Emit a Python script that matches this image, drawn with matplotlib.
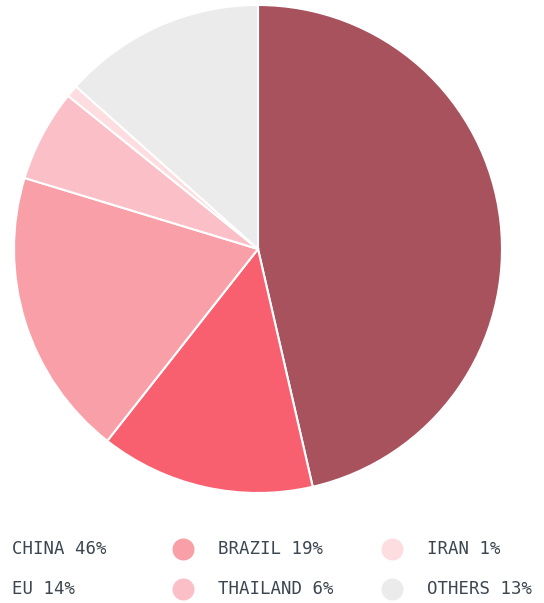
import matplotlib
matplotlib.use("Agg")
import matplotlib.pyplot as plt

labels = ["CHINA", "EU", "BRAZIL", "THAILAND", "IRAN", "OTHERS"]
values = [46.4, 14.2, 19.1, 6.1, 0.8, 13.4]
pct_labels = ["46%", "14%", "19%", "6%", "1%", "13%"]
colors = ["#A8525E", "#F9606F", "#F99FA8", "#FBC0C7", "#FDDDE0", "#EBEBEB"]

W, H = 544, 603
fig = plt.figure(figsize=(W / 100, H / 100), dpi=100)
cx, cy, r = 258, 249, 244
ax = fig.add_axes([(cx - r) / W, (H - cy - r) / H, 2 * r / W, 2 * r / H])
ax.pie(values, colors=colors, startangle=90, counterclock=False,
       wedgeprops=dict(edgecolor="white", linewidth=1.5), radius=1)
ax.set_xlim(-1, 1)
ax.set_ylim(-1, 1)
ax.set_aspect("equal")
ax.axis("off")

# legend: column-major, 3 columns, 2 rows
text_x = [12, 218, 427]
marker_dx = -35
row_y = [549, 589]
lax = fig.add_axes([0, 0, 1, 1], facecolor="none")
lax.set_xlim(0, W)
lax.set_ylim(H, 0)
lax.axis("off")
for i, (lab, p, c) in enumerate(zip(labels, pct_labels, colors)):
    col, row = divmod(i, 2)
    x = text_x[col]
    y = row_y[row]
    lax.scatter([x + marker_dx], [y], s=(22 * 0.72) ** 2, color=c, linewidths=0, clip_on=True)
    lax.text(x, y, f"{lab} {p}", family="DejaVu Sans Mono", fontsize=12.5,
             color="#3C4650", va="center", ha="left")

fig.savefig("out.png", dpi=100)
